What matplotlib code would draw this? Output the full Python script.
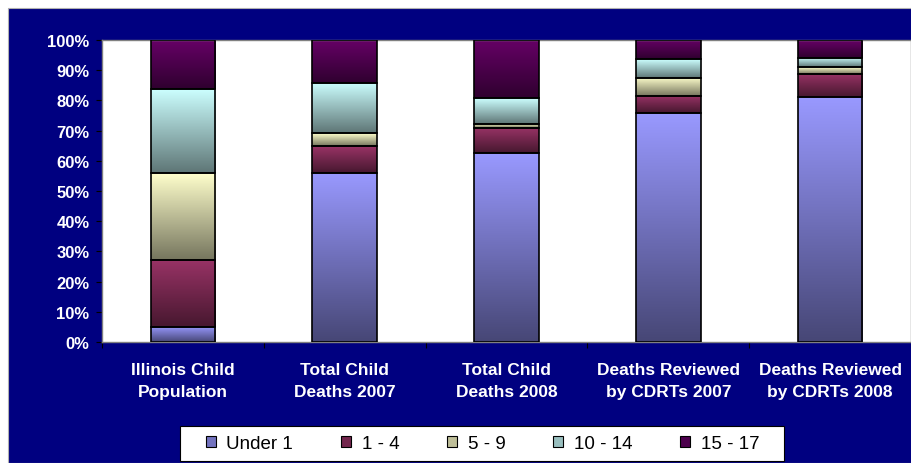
import numpy as np
import matplotlib
matplotlib.use("Agg")
import matplotlib.pyplot as plt
from matplotlib.patches import Patch, Rectangle
from matplotlib.colors import to_rgb

plt.rcParams['font.family'] = ['Liberation Sans', 'DejaVu Sans']

# Share of each age group (percent) for each population
categories = ["Illinois Child\nPopulation", "Total Child\nDeaths 2007", "Total Child\nDeaths 2008",
              "Deaths Reviewed\nby CDRTs 2007", "Deaths Reviewed\nby CDRTs 2008"]
age_groups = ["Under 1", "1 - 4", "5 - 9", "10 - 14", "15 - 17"]
under_1 = [5.1, 56.0, 62.5, 75.8, 81.0]
age_1_4 = [22.2, 8.9, 8.3, 5.7, 7.8]
age_5_9 = [28.8, 4.2, 1.5, 6.0, 2.1]
age_10_14 = [27.7, 16.7, 8.4, 6.1, 3.2]
age_15_17 = [16.2, 14.2, 19.3, 6.4, 5.9]
series = [under_1, age_1_4, age_5_9, age_10_14, age_15_17]

top_colors = ["#9999FF", "#993366", "#FFFFCC", "#CCFFFF", "#660066"]
NAVY = "#000080"

fig = plt.figure(figsize=(9.12, 4.64), dpi=100, facecolor="white")
fig.patches.append(Rectangle((8 / 912, 0), 1, 1 - 9 / 464, transform=fig.transFigure,
                             facecolor=NAVY, edgecolor="#b0b0b0", linewidth=0.8, zorder=-10))

ax = fig.add_axes([102 / 912, 1 - 343 / 464, (911 - 102) / 912, (343 - 41) / 464])
ax.set_facecolor("white")

x = np.arange(len(categories))
width = 0.4


def gradient(color, n=256):
    top = np.array(to_rgb(color))
    bottom = top * 0.46
    t = np.linspace(0, 1, n)[:, None, None]
    return top[None, None, :] * (1 - t) + bottom[None, None, :] * t


bottoms = np.zeros(len(categories))
for values, col in zip(series, top_colors):
    vals = np.array(values)
    bars = ax.bar(x, vals, width, bottom=bottoms, facecolor="none", edgecolor="black",
                  linewidth=1.2, zorder=3)
    grad = gradient(col)
    for b in bars:
        x0, y0 = b.get_x(), b.get_y()
        ax.imshow(grad, extent=(x0, x0 + b.get_width(), y0, y0 + b.get_height()),
                  origin="upper", aspect="auto", interpolation="bilinear", zorder=2)
    bottoms += vals

ax.set_xlim(-0.5, len(categories) - 0.5)
ax.set_ylim(0, 100)

ax.set_yticks(np.arange(0, 101, 10))
ax.set_yticklabels([f"{v}%" for v in range(0, 101, 10)])
ax.set_xticks(x)
ax.set_xticklabels(categories, linespacing=1.55)
ax.set_xticks(np.arange(-0.5, len(categories), 1.0), minor=True)
ax.tick_params(axis="x", which="major", length=0, pad=14.5, colors="white", labelsize=12.5)
ax.tick_params(axis="x", which="minor", length=4, width=0.8, color="black")
ax.tick_params(axis="y", length=4, width=0.8, color="black", pad=5, labelsize=12, labelcolor="white")
for lab in ax.get_xticklabels() + ax.get_yticklabels():
    lab.set_fontweight("bold")
    lab.set_color("white")

for side in ["top", "right", "left", "bottom"]:
    ax.spines[side].set_color("#808080")
    ax.spines[side].set_linewidth(1.0)

# Legend box and entries
fig.patches.append(Rectangle((180 / 912, 1 - 462 / 464), 604 / 912, 35 / 464,
                             transform=fig.transFigure, facecolor="white",
                             edgecolor="black", linewidth=0.8, zorder=4))
mid_colors = [tuple(np.array(to_rgb(c)) * 0.75) for c in top_colors]
handles = [Patch(facecolor=c, edgecolor="black", linewidth=0.8) for c in mid_colors]
leg = fig.legend(handles, age_groups, loc="center", bbox_to_anchor=(482.5 / 912, 1 - 444.5 / 464),
                 bbox_transform=fig.transFigure, ncol=5, fontsize=13.5, frameon=False,
                 handlelength=0.55, handleheight=0.55, handletextpad=0.55, columnspacing=2.55,
                 borderpad=0.3, borderaxespad=0)
leg.set_zorder(5)

fig.savefig("out.png", dpi=100, facecolor=fig.get_facecolor())
